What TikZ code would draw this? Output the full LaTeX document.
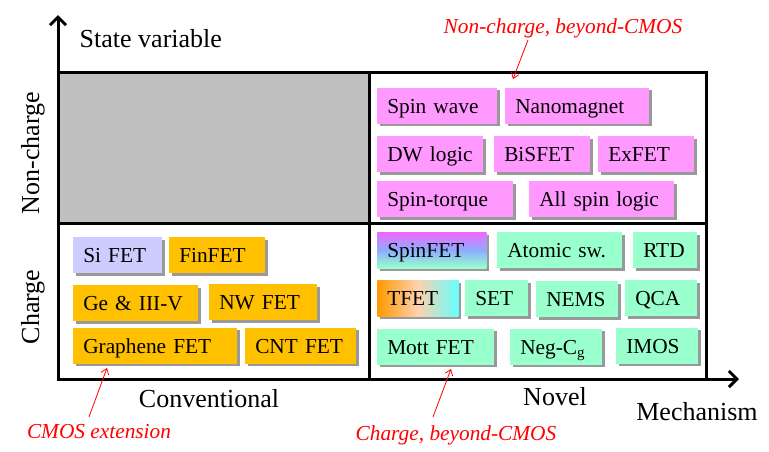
\documentclass[tikz,border=0pt]{standalone}
\usepackage{fontspec}
\setmainfont{Liberation Serif}
\usetikzlibrary{arrows.meta,shadows}

\definecolor{pinkdev}{HTML}{FF99FF}
\definecolor{orangedev}{HTML}{FFC000}
\definecolor{lavdev}{HTML}{CCCCFF}
\definecolor{aquadev}{HTML}{99FFCC}
\definecolor{grayquad}{HTML}{C0C0C0}
\pgfdeclareverticalshading{spinshade}{100bp}{rgb(0bp)=(0.6,1,0.8); rgb(25bp)=(0.6,1,0.8);
  rgb(50bp)=(0.55,0.68,1); rgb(75bp)=(0.95,0.4,1); rgb(100bp)=(0.95,0.4,1)}
\pgfdeclarehorizontalshading{tfetshade}{100bp}{rgb(0bp)=(1,0.6,0); rgb(25bp)=(1,0.6,0);
  rgb(50bp)=(1,0.82,0.68); rgb(75bp)=(0.4,1,1); rgb(100bp)=(0.4,1,1)}

\begin{document}
\begin{tikzpicture}[x=0.75pt, y=-0.75pt]
\tikzset{dev/.style={anchor=west, minimum height=27pt, inner xsep=7.5pt,
    text width=#1, align=left, text height=14pt, text depth=2.5pt,
    font=\fontsize{16}{18}\selectfont,
    drop shadow={shadow xshift=2pt, shadow yshift=-2pt, fill=black, opacity=0.4}},
  axlabel/.style={font=\fontsize{19.5}{22}\selectfont},
  note/.style={text=red, font=\fontsize{16}{18}\selectfont\itshape},
  grid/.style={line width=2.25pt},
  axis/.style={line width=2.25pt, -{Straight Barb[length=6pt, width=12pt, line width=2.25pt]}},
  pointer/.style={red, line width=0.6pt, -{Straight Barb[length=4pt, width=6pt]}}}
\useasboundingbox (0,0) rectangle (769,451);
\fill[grayquad] (58,72) rectangle (369,223);
\draw[grid] (58,72) rectangle (706,379);
\draw[grid] (369,72) -- (369,379);
\draw[grid] (58,223) -- (706,223);
\coordinate (O) at (58,379);
\coordinate (ytip) at (58,15);
\coordinate (xtip) at (739,379);
\draw[axis] (O) -- (ytip);
\draw[axis] (O) -- (xtip);
% axis labels
\node[axlabel, anchor=base west] (statevar) at (75,47) {State variable};
\node[axlabel, anchor=base, rotate=90] (noncharge) at (39,153) {Non-charge};
\node[axlabel, anchor=base, rotate=90] (charge) at (39,307) {Charge};
\node[axlabel, anchor=base] (conv) at (209,407) {Conventional};
\node[axlabel, anchor=base] (novel) at (555,405) {Novel};
\node[axlabel, anchor=base] (mech) at (697,420) {Mechanism};
% non-charge, novel
\node[dev=75pt, fill=pinkdev] (spinwave) at (377,105.5) {Spin wave};
\node[dev=93pt, fill=pinkdev] (nanomag) at (505,105.5) {Nanomagnet};
\node[dev=64.5pt, fill=pinkdev] (dwlogic) at (377,154) {DW logic};
\node[dev=57pt, fill=pinkdev] (bisfet) at (494,154) {BiSFET};
\node[dev=57pt, fill=pinkdev] (exfet) at (598,154) {ExFET};
\node[dev=87pt, fill=pinkdev] (spintorque) at (377,199) {Spin-torque};
\node[dev=93.75pt, fill=pinkdev] (allspin) at (529,199) {All spin logic};
% charge, conventional
\node[dev=51.75pt, fill=lavdev] (sifet) at (73,255) {Si FET};
\node[dev=57pt, fill=orangedev] (finfet) at (169,255) {FinFET};
\node[dev=78.75pt, fill=orangedev] (geiiiv) at (73,303) {Ge \& III-V};
\node[dev=66pt, fill=orangedev] (nwfet) at (209,302) {NW FET};
\node[dev=108pt, fill=orangedev] (graphene) at (73,345.5) {Graphene FET};
\node[dev=68.25pt, fill=orangedev] (cntfet) at (245,345.5) {CNT FET};
% charge, novel
\node[dev=66.75pt, shading=spinshade] (spinfet) at (377,250) {SpinFET};
\node[dev=78.75pt, fill=aquadev] (atomic) at (497,250) {Atomic sw.};
\node[dev=33pt, fill=aquadev] (rtd) at (633,250) {RTD};
\node[dev=45.75pt, shading=tfetshade] (tfet) at (377,298) {TFET};
\node[dev=32.25pt, fill=aquadev] (set) at (465,298) {SET};
\node[dev=46.5pt, fill=aquadev] (nems) at (536,299) {NEMS};
\node[dev=39pt, fill=aquadev] (qca) at (625,298) {QCA};
\node[dev=72.75pt, fill=aquadev] (mottfet) at (377,346.5) {Mott FET};
\node[dev=54pt, fill=aquadev] (negcg) at (510,346.5) {Neg-C\textsubscript{g}};
\node[dev=46.5pt, fill=aquadev] (imos) at (616,345.5) {IMOS};
% notes
\node[note, anchor=base] (ncnote) at (563,33) {Non-charge, beyond-CMOS};
\node[note, anchor=base] (cmosnote) at (99,438) {CMOS extension};
\node[note, anchor=base] (cbnote) at (456,440) {Charge, beyond-CMOS};
\coordinate (ncfrom) at (528,40);
\coordinate (ncto) at (513,79);
\coordinate (cmosfrom) at (89,417);
\coordinate (cmosto) at (107,368);
\coordinate (cbfrom) at (433,417);
\coordinate (cbto) at (451,369);
\draw[pointer] (ncfrom) -- (ncto);
\draw[pointer] (cmosfrom) -- (cmosto);
\draw[pointer] (cbfrom) -- (cbto);
\end{tikzpicture}
\end{document}
